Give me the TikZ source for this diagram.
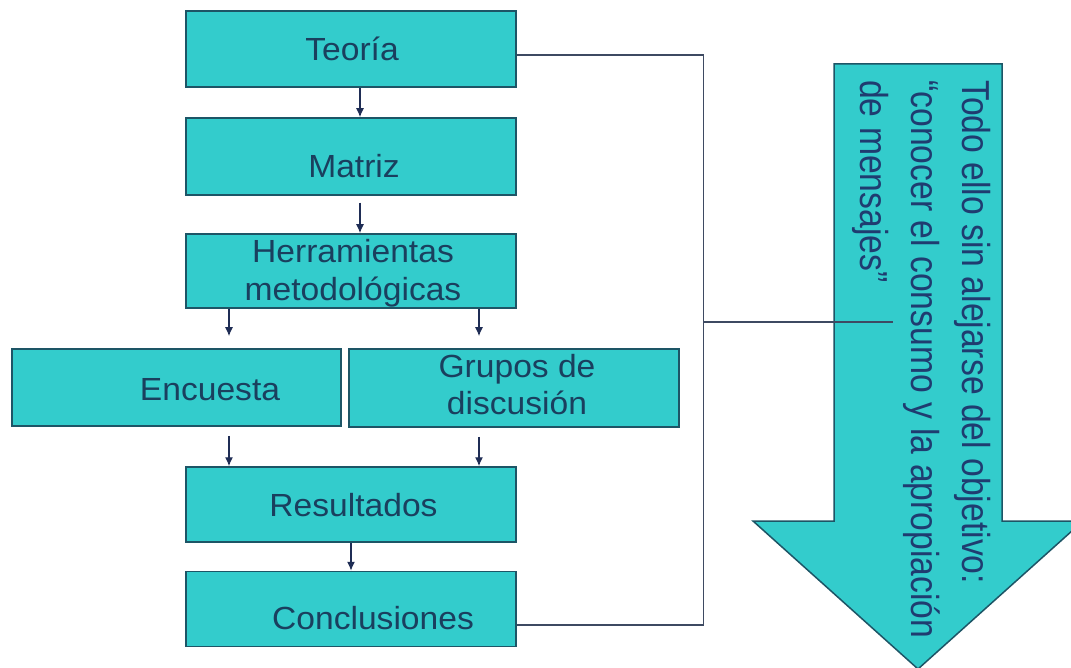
\documentclass[tikz,border=0pt]{standalone}
\usepackage{fontspec}
\setmainfont[FakeStretch=1.05]{Liberation Sans}
\newfontfamily\arrowfont[FakeStretch=0.864]{Liberation Sans}
\usetikzlibrary{arrows.meta}
\definecolor{boxfill}{HTML}{33CCCC}
\definecolor{boxline}{HTML}{1D5566}
\definecolor{txtcol}{HTML}{1A3F5E}
\definecolor{arrtxt}{HTML}{1F3C70}
\definecolor{arrcol}{HTML}{1F2D55}
\definecolor{brackcol}{HTML}{3E4A62}
\begin{document}
\begin{tikzpicture}[x=1pt,y=-1pt,
  box/.style={draw=boxline, fill=boxfill, line width=1.5pt, inner sep=0pt, minimum width=330pt},
  txt/.style={text=txtcol, font=\fontsize{32}{38}\selectfont, inner sep=0pt, anchor=base},
  flow/.style={draw=arrcol, line width=1.4pt, -{Latex[length=9pt,width=8pt]}},
  brack/.style={draw=brackcol, line width=1.4pt},
  bigarrow/.style={draw=boxline, fill=boxfill, line width=1.5pt}]
\useasboundingbox (0,0) rectangle (1071,668);
\clip (0,0) rectangle (1071,668);
\fill[white] (0,0) rectangle (1071,668);

% boxes
\node[box, minimum height=76pt] (teoria) at (351,49) {};
\node[box, minimum height=77pt] (matriz) at (351,156.5) {};
\node[box, minimum height=74pt] (herr) at (351,271) {};
\node[box, minimum width=329pt, minimum height=77pt] (encuesta) at (176.5,387.5) {};
\node[box, minimum height=78pt] (grupos) at (514,388) {};
\node[box, minimum height=75pt] (resultados) at (351,504.5) {};
\node[box, minimum height=75pt] (conclusiones) at (351,609) {};

% texts
\node[txt] (tteoria) at (352,61) {Teoría};
\node[txt] (tmatriz) at (354,178) {Matriz};
\node[txt] (therr) at (353,263) {\begin{tabular}[t]{@{}c@{}}Herramientas\\metodológicas\end{tabular}};
\node[txt] (tencuesta) at (210,400) {Encuesta};
\node[txt] (tgrupos) at (517,377) {\begin{tabular}[t]{@{}c@{}}Grupos de\\discusión\end{tabular}};
\node[txt] (tresultados) at (353.5,516) {Resultados};
\node[txt] (tconclusiones) at (373,629) {Conclusiones};

% flow connectors
\draw[flow] ([xshift=9pt]teoria.south) -- ([xshift=9pt]matriz.north);
\draw[flow] ([xshift=9pt,yshift=-7pt]matriz.south) -- ([xshift=9pt]herr.north);
\coordinate (cl) at ([xshift=52.5pt]encuesta.north);
\coordinate (cr) at ([xshift=-35pt]grupos.north);
\coordinate (cl2) at (cl |- encuesta.south);
\coordinate (cr2) at (cr |- grupos.south);
\draw[flow] (cl |- herr.south) -- ([yshift=12pt]cl);
\draw[flow] (cr |- herr.south) -- ([yshift=12pt]cr);
\draw[flow] ([yshift=-9pt]cl2) -- (cl |- resultados.north);
\draw[flow] ([yshift=-9pt]cr2) -- (cr |- resultados.north);
\draw[flow] (resultados.south) -- (conclusiones.north);

% bracket
\draw[brack] ([yshift=-6pt]teoria.east) -- ++(187,0) |- ([yshift=-16pt]conclusiones.east);

% big arrow
\draw[bigarrow] (834,64) -- (1002,64) -- (1002,521) -- (1083,521) -- (918,669) -- (753,521) -- (834,521) -- cycle;
\node[rotate=-90, anchor=base west, inner sep=0pt, text=arrtxt,
      font=\arrowfont\fontsize{39}{51}\selectfont] (tarrow) at (962,80)
  {\begin{tabular}[t]{@{}l@{}}Todo ello sin alejarse del objetivo:\\“conocer el consumo y la apropiación\\de mensajes”\end{tabular}};

% link from bracket to arrow
\coordinate (junc) at (703,322);
\coordinate (arrowend) at (893,322);
\draw[brack] (junc) -- (arrowend);
\end{tikzpicture}
\end{document}
